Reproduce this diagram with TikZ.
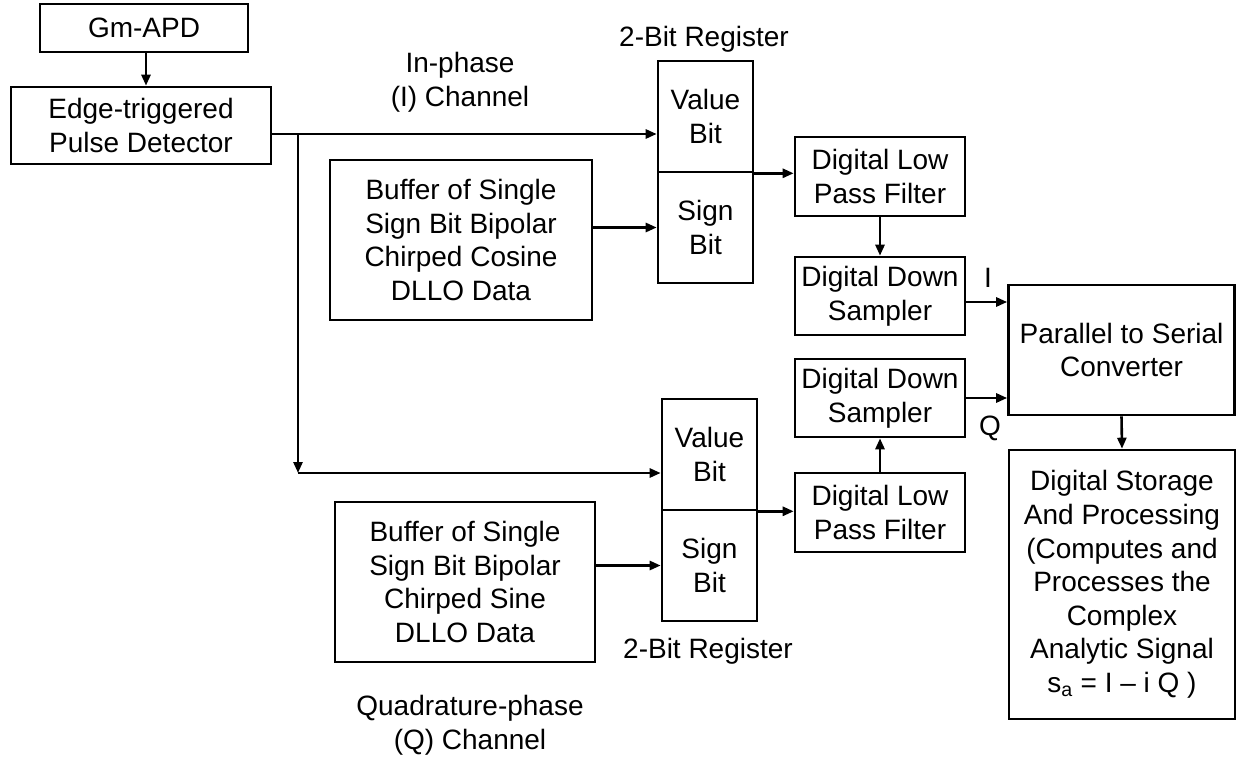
\documentclass[tikz,border=0pt]{standalone}
\usepackage{fontspec}
\setmainfont{Liberation Sans}
\usetikzlibrary{arrows.meta,calc}
\begin{document}
\begin{tikzpicture}[x=1pt,y=-1pt,
  every node/.style={font=\fontsize{28}{33.6}\selectfont, align=center, inner sep=0pt},
  box/.style={draw, line width=2.6pt},
  arr/.style={line width=2.6pt, -{Triangle[length=11pt,width=9pt]}},
  ln/.style={line width=2.6pt}]
\useasboundingbox (0,0) rectangle (1238,759);
% boxes
\node[box, minimum width=208, minimum height=48] (gm) at (144,28) {Gm-APD};
\node[box, minimum width=260, minimum height=77] (ed) at (141,125.5) {Edge-triggered\\Pulse Detector};
\node[box, minimum width=262, minimum height=160] (buf1) at (461,240) {Buffer of Single\\Sign Bit Bipolar\\Chirped Cosine\\DLLO Data};
\node[box, minimum width=260, minimum height=160] (buf2) at (465,582) {Buffer of Single\\Sign Bit Bipolar\\Chirped Sine\\DLLO Data};
\node[box, minimum width=95, minimum height=111] (iv) at (705.5,116.5) {Value\\Bit};
\node[box, minimum width=95, minimum height=111] (is) at (705.5,227.5) {Sign\\Bit};
\node[box, minimum width=95, minimum height=111] (qv) at (709.5,454.5) {Value\\Bit};
\node[box, minimum width=95, minimum height=111] (qs) at (709.5,565.5) {Sign\\Bit};
\node[box, minimum width=170, minimum height=79] (lpf1) at (880,176.5) {Digital Low\\Pass Filter};
\node[box, minimum width=170, minimum height=78] (dds1) at (880,296) {Digital Down\\Sampler};
\node[box, minimum width=170, minimum height=78] (dds2) at (880,398) {Digital Down\\Sampler};
\node[box, minimum width=170, minimum height=79] (lpf2) at (880,512.5) {Digital Low\\Pass Filter};
\node[box, minimum width=226, minimum height=130] (p2s) at (1121.5,350) {Parallel to Serial\\Converter};
\node[box, minimum width=226, minimum height=269] (dsp) at (1122,584.5) {Digital Storage\\And Processing\\(Computes and\\Processes the\\Complex\\Analytic Signal\\s\textsubscript{a} = I -- i Q )};
% labels
\node (lin) at (460,82.5) {In-phase\\(I) Channel};
\node (lrt) at (704,39) {2-Bit Register};
\node (lrb) at (708,651) {2-Bit Register};
\node (lq) at (470,725.5) {Quadrature-phase\\(Q) Channel};
\node (li) at (988,278) {I};
\node (lqq) at (990,428) {Q};
% junctions
\coordinate (j1) at (298,134);
\coordinate (j2) at (298,473);
\coordinate (ga) at (146,52);
% connectors
\draw[arr] (gm.south -| ga) -- (ed.north -| ga);
\draw[ln] (ed.east |- j1) -- (j1);
\draw[arr] (j1) -- (iv.west |- j1);
\draw[arr] (j1) -- (j2);
\draw[arr] (j2) -- (qv.west |- j2);
\draw[arr] (buf1.east |- is.west) -- (is.west);
\draw[arr] (buf2.east |- qs.west) -- (qs.west);
\draw[arr] (iv.south east) -- (lpf1.west |- iv.south east);
\draw[arr] (qv.south east) -- (lpf2.west |- qv.south east);
\draw[arr] (lpf1.south) -- (dds1.north);
\draw[arr] (lpf2.north) -- (dds2.south);
\draw[arr] ($(dds1.east)+(0,6)$) -- ($(p2s.west |- dds1.east)+(0,6)$);
\draw[arr] (dds2.east) -- (p2s.west |- dds2.east);
\draw[arr] (p2s.south) -- (dsp.north);
\end{tikzpicture}
\end{document}
